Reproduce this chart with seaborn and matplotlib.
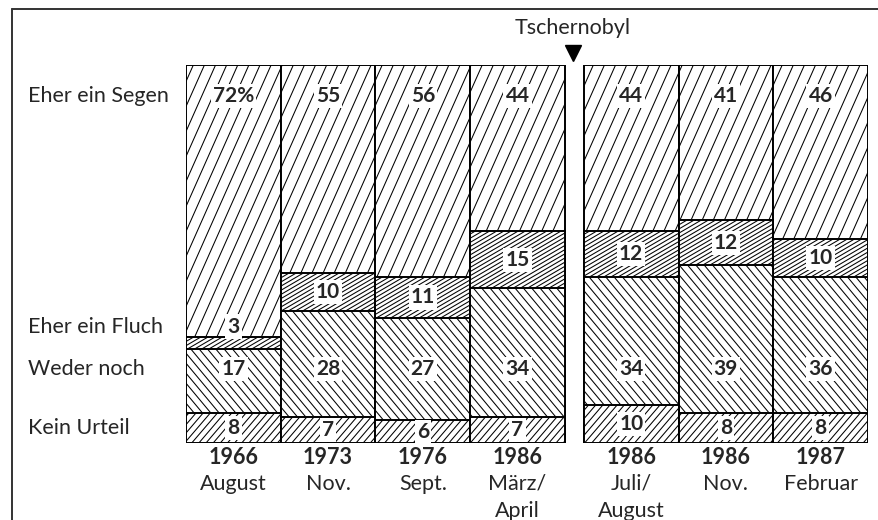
import numpy as np
import pandas as pd
import matplotlib
matplotlib.use("Agg")
import matplotlib.pyplot as plt
import matplotlib.hatch as mhatch
import matplotlib.transforms as mtrans
from matplotlib.path import Path
from matplotlib.lines import Line2D
import seaborn as sns

# ---------------- data ----------------
period_years = ["1966", "1973", "1976", "1986", "1986", "1986", "1987"]
period_months = ["August", "Nov.", "Sept.", "März/\nApril", "Juli/\nAugust", "Nov.", "Februar"]
kein_urteil = [8, 7, 6, 7, 10, 8, 8]
weder_noch = [17, 28, 27, 34, 34, 39, 36]
eher_fluch = [3, 10, 11, 15, 12, 12, 10]
eher_segen = [72, 55, 56, 44, 44, 41, 46]
category_names = ["Eher ein Segen", "Eher ein Fluch", "Weder noch", "Kein Urteil"]
event_label = "Tschernobyl"
event_after = 3          # the event lies between the 4th and 5th survey


# ---------------- custom slanted hatches ----------------
class SlantHatch(mhatch.HatchPatternBase):
    # char -> (lines per hatch tile, horizontal shift over one tile height in line spacings)
    specs = {"/": (9, 4), "-": (14, 24), "\\": (12, -10), "|": (14, 12)}

    def __init__(self, hatch, density):
        segs = []
        for ch, (n, m) in self.specs.items():
            if hatch and ch in hatch:
                d = m / n
                lo = min(0.0, -d) - 1.0 / n
                hi = max(1.0, 1.0 - d) + 1.0 / n
                for k in np.arange(np.floor(lo * n), np.ceil(hi * n) + 1):
                    x0 = k / n
                    segs.append(((x0, 0.0), (x0 + d, 1.0)))
        self.segs = segs
        self.num_vertices = 2 * len(segs)

    def set_vertices_and_codes(self, vertices, codes):
        for i, (a, b) in enumerate(self.segs):
            vertices[2 * i] = a
            vertices[2 * i + 1] = b
            codes[2 * i] = Path.MOVETO
            codes[2 * i + 1] = Path.LINETO


mhatch._hatch_types = [SlantHatch]

sns.set_style("white")
plt.rcParams["font.family"] = ["Lato", "DejaVu Sans"]
plt.rcParams["hatch.linewidth"] = 0.75

fig = plt.figure(figsize=(8.79, 5.2), dpi=100)
W, H = 879, 520
ax = fig.add_axes([186 / W, 1 - 443 / H, 682 / W, 378 / H])

n = len(period_years)
idx = np.arange(n)
gap = 0.2
x_pos = idx + 0.5 + np.where(idx > event_after, gap, 0.0)

c1 = np.array(kein_urteil, float)
c2 = c1 + np.array(weder_noch)
c3 = c2 + np.array(eher_fluch)
c4 = c3 + np.array(eher_segen)
df = pd.DataFrame({"x": x_pos, "c1": c1, "c2": c2, "c3": c3, "c4": c4})

for col, hatch in [("c4", "/"), ("c3", "-"), ("c2", "\\"), ("c1", "|")]:
    sns.barplot(data=df, x="x", y=col, native_scale=True, width=1.0,
                color="white", saturation=1, edgecolor="black", linewidth=1.4,
                hatch=hatch, errorbar=None, ax=ax)

ax.set_xlim(0, n + gap)
ax.set_ylim(0, 100)
ax.set_axis_off()

FS = 15.5
num_kw = dict(ha="center", va="center", fontsize=15, fontweight="bold",
              bbox=dict(boxstyle="square,pad=0.1", fc="white", ec="none"))
segen_y = 91.7
weder_y = 19.5
label_y = {}
for i in range(n):
    yk = c1[i] / 2
    yw = weder_y
    yf = c2[i] + eher_fluch[i] / 2 if eher_fluch[i] >= 5 else c3[i] + 2.8
    ys = segen_y
    txt_s = f"{eher_segen[i]}%" if i == 0 else f"{eher_segen[i]}"
    ax.text(x_pos[i], ys, txt_s, **num_kw)
    ax.text(x_pos[i], yf, f"{eher_fluch[i]}", **num_kw)
    ax.text(x_pos[i], yw, f"{weder_noch[i]}", **num_kw)
    ax.text(x_pos[i], yk, f"{kein_urteil[i]}", **num_kw)
    if i == 0:
        label_y = {"Eher ein Segen": ys, "Eher ein Fluch": yf,
                   "Weder noch": yw, "Kein Urteil": yk}

# category names on the left, aligned with first bar's numbers
for name in category_names:
    ax.annotate(name, xy=(0, label_y[name]), xycoords=("axes fraction", "data"),
                xytext=(-158 * 0.72, 0), textcoords="offset points",
                ha="left", va="center", fontsize=FS)

# period labels below bars
for i in range(n):
    ax.annotate(period_years[i], xy=(x_pos[i], 0), xycoords=("data", "axes fraction"),
                xytext=(0, -15 * 0.72), textcoords="offset points",
                ha="center", va="center", fontsize=FS, fontweight="bold")
    ax.annotate(period_months[i], xy=(x_pos[i], 0), xycoords=("data", "axes fraction"),
                xytext=(0, -31 * 0.72), textcoords="offset points",
                ha="center", va="top", fontsize=FS, linespacing=1.45)

# event marker
gx = event_after + 1 + gap / 2
ax.annotate(event_label, xy=(gx, 1.0), xycoords=("data", "axes fraction"),
            xytext=(-1, 37 * 0.72), textcoords="offset points",
            ha="center", va="center", fontsize=FS)
tri_tr = mtrans.offset_copy(ax.get_xaxis_transform(), fig=fig, x=-1, y=12 * 0.72, units="points")
ax.plot([gx], [1.0], marker="v", ms=12, color="black", transform=tri_tr, clip_on=False)

# partial frame (left and top)
fc = "#333333"
fig.add_artist(Line2D([12 / W, 12 / W], [0, 1 - 9 / H], color=fc, lw=1.4, transform=fig.transFigure))
fig.add_artist(Line2D([12 / W, 1], [1 - 9 / H, 1 - 9 / H], color=fc, lw=1.4, transform=fig.transFigure))

fig.savefig("out.png", dpi=100)
